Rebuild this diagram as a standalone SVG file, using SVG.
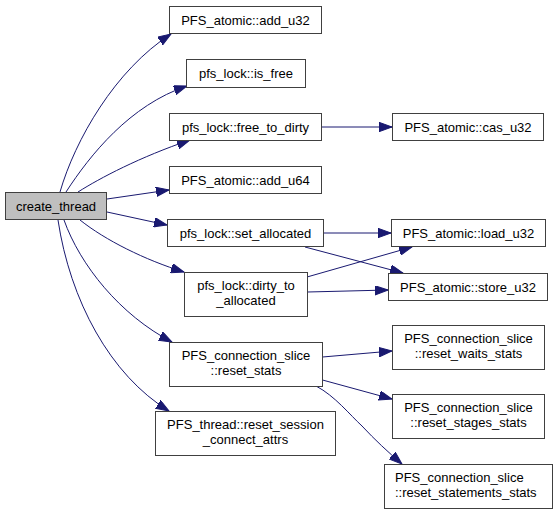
<svg xmlns="http://www.w3.org/2000/svg" width="557" height="515" viewBox="0 0 557 515">
<style>
.n rect{fill:#ffffff;stroke:#404040;stroke-width:1}
.root rect{fill:#bfbfbf;stroke:#404040;stroke-width:1}
text{font-family:"Liberation Sans",Arial,sans-serif;font-size:13px;fill:#000000;text-anchor:middle}
.e path{fill:none;stroke:#191970;stroke-width:1;marker-end:url(#ah)}
</style>
<defs>
<marker id="ah" markerUnits="userSpaceOnUse" markerWidth="14" markerHeight="10" refX="13" refY="4.7" orient="auto">
<path d="M0,0 L13,4.7 L0,9.4 z" fill="#191970" stroke="#191970" stroke-width="1"/>
</marker>
</defs>
<rect width="557" height="515" fill="#ffffff"/>
<g id="connectors" class="e">
<path d="M60,192 C75,140 115,70 171,34"/>
<path d="M66,192 C90,155 130,105 187,86"/>
<path d="M78,192 C100,178 140,157 190,140"/>
<path d="M107,199 L169,190"/>
<path d="M107,212 L167,225"/>
<path d="M80,220 C105,240 145,260 184,272"/>
<path d="M64,220 C80,265 120,315 172,342"/>
<path d="M58,220 C70,300 110,375 169,411"/>
<path d="M321.5,127 L392,127"/>
<path d="M323.5,233 L391,233"/>
<path d="M305,247 L403,273"/>
<path d="M307,277 L412,247"/>
<path d="M307.5,292 L388,290"/>
<path d="M322.5,357 L392,351"/>
<path d="M322.5,380 L392,399"/>
<path d="M316,386 C335,396 350,415 362,426 C375,440 388,452 402,464"/>
</g>
<g id="create_thread" class="root"><rect x="5.5" y="192.5" width="101" height="27"/><text x="56" y="210.5">create_thread</text></g>
<g id="add_u32" class="n"><rect x="169.5" y="6.5" width="152" height="27"/><text x="245.5" y="24.5">PFS_atomic::add_u32</text></g>
<g id="is_free" class="n"><rect x="186.5" y="59.5" width="119" height="28"/><text x="246" y="78">pfs_lock::is_free</text></g>
<g id="free_to_dirty" class="n"><rect x="169.5" y="113.5" width="152" height="27"/><text x="245.5" y="131.5">pfs_lock::free_to_dirty</text></g>
<g id="add_u64" class="n"><rect x="169.5" y="166.5" width="152" height="27"/><text x="245.5" y="184.5">PFS_atomic::add_u64</text></g>
<g id="set_allocated" class="n"><rect x="167.5" y="219.5" width="156" height="27"/><text x="245.5" y="237.5">pfs_lock::set_allocated</text></g>
<g id="dirty_to_allocated" class="n"><rect x="184.5" y="272.5" width="123" height="44"/><text x="246" y="289.5">pfs_lock::dirty_to</text><text x="246" y="304.5">_allocated</text></g>
<g id="reset_stats" class="n"><rect x="169.5" y="342.5" width="153" height="44"/><text x="246" y="359.5">PFS_connection_slice</text><text x="246" y="374.5">::reset_stats</text></g>
<g id="reset_session_connect_attrs" class="n"><rect x="155.5" y="411.5" width="180" height="44"/><text x="245.5" y="428.5">PFS_thread::reset_session</text><text x="245.5" y="443.5">_connect_attrs</text></g>
<g id="cas_u32" class="n"><rect x="392.5" y="113.5" width="151" height="27"/><text x="468" y="131.5">PFS_atomic::cas_u32</text></g>
<g id="load_u32" class="n"><rect x="391.5" y="219.5" width="154" height="27"/><text x="468.5" y="237.5">PFS_atomic::load_u32</text></g>
<g id="store_u32" class="n"><rect x="388.5" y="273.5" width="159" height="27"/><text x="468" y="291.5">PFS_atomic::store_u32</text></g>
<g id="reset_waits_stats" class="n"><rect x="392.5" y="325.5" width="152" height="44"/><text x="468.5" y="342.5">PFS_connection_slice</text><text x="468.5" y="357.5">::reset_waits_stats</text></g>
<g id="reset_stages_stats" class="n"><rect x="392.5" y="394.5" width="152" height="44"/><text x="468.5" y="411.5">PFS_connection_slice</text><text x="468.5" y="426.5">::reset_stages_stats</text></g>
<g id="reset_statements_stats" class="n"><rect x="384.5" y="464.5" width="168" height="44"/><text x="395" y="481.5" style="text-anchor:start">PFS_connection_slice</text><text x="395" y="496.5" style="text-anchor:start">::reset_statements_stats</text></g>
</svg>
